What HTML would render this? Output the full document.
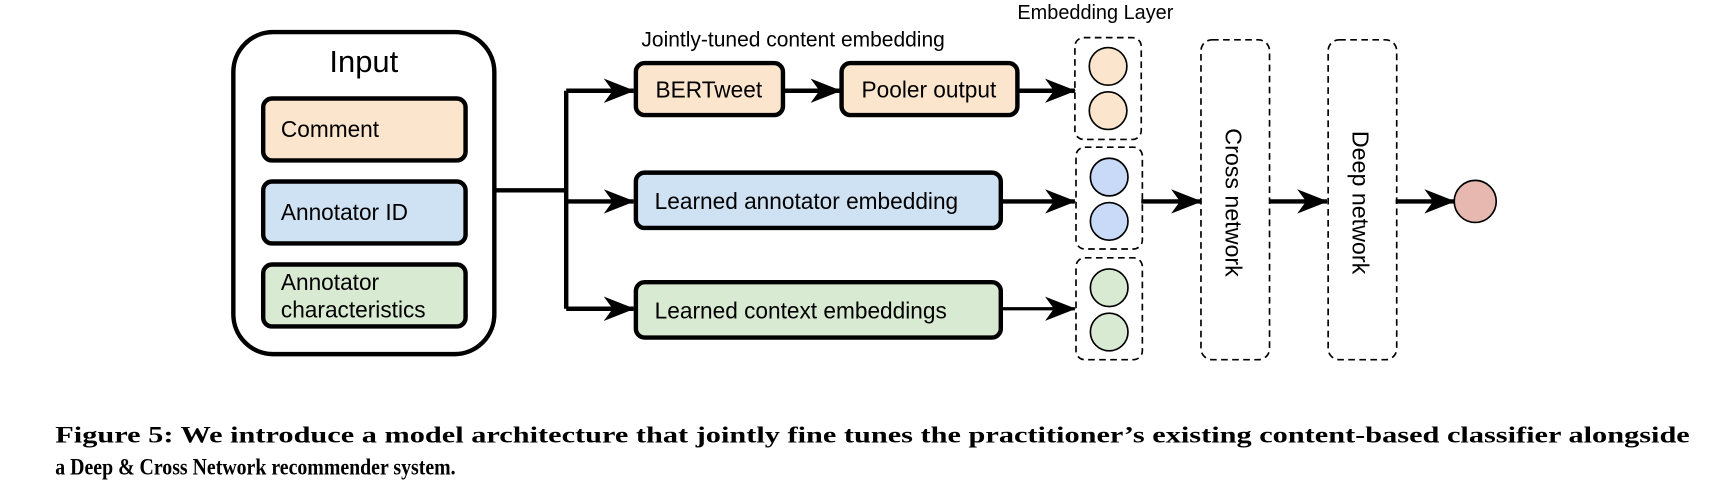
<!DOCTYPE html>
<html><head><meta charset="utf-8"><style>
html,body{margin:0;padding:0;background:#fff;}
svg{display:block;}
</style></head><body>
<svg width="1734" height="498" viewBox="0 0 1568 450" preserveAspectRatio="none" xmlns="http://www.w3.org/2000/svg">
<defs>
<marker id="ah" viewBox="0 0 28 22" refX="27" refY="11" markerWidth="28" markerHeight="22" markerUnits="userSpaceOnUse" orient="auto">
<path d="M0,0 L28,11 L0,22 L8,11 Z" fill="#000"/>
</marker>
</defs>
<g font-family="Liberation Sans, Arial, sans-serif" fill="#000">
<rect x="211" y="29" width="236" height="291" rx="36" fill="#fff" stroke="#000" stroke-width="4"/>
<text x="329" y="65" font-size="28" text-anchor="middle">Input</text>
<rect x="238" y="89" width="183" height="56" rx="8" fill="#fce5cd" stroke="#000" stroke-width="4"/>
<text x="254" y="124" font-size="20.5">Comment</text>
<rect x="238" y="164" width="183" height="56" rx="8" fill="#cfe2f3" stroke="#000" stroke-width="4"/>
<text x="254" y="199" font-size="20.5">Annotator ID</text>
<rect x="238" y="239" width="183" height="56" rx="8" fill="#d9ead3" stroke="#000" stroke-width="4"/>
<text x="254" y="262" font-size="20.5">Annotator</text>
<text x="254" y="287" font-size="20.5">characteristics</text>

<g stroke="#000" stroke-width="4" fill="none">
<path d="M447,172 H512"/>
<path d="M512,82 V279"/>
<path d="M512,82 H573" marker-end="url(#ah)"/>
<path d="M512,182 H573" marker-end="url(#ah)"/>
<path d="M512,279 H573" marker-end="url(#ah)"/>
<path d="M708,82 H760" marker-end="url(#ah)"/>
<path d="M920,82 H972" marker-end="url(#ah)"/>
<path d="M905,182 H972" marker-end="url(#ah)"/>
<path d="M905,279 H972" stroke-width="3" marker-end="url(#ah)"/>
<path d="M1032,182 H1086" marker-end="url(#ah)"/>
<path d="M1148,182 H1200" marker-end="url(#ah)"/>
<path d="M1262,182 H1315" marker-end="url(#ah)"/>
</g>

<text x="580" y="42" font-size="19">Jointly-tuned content embedding</text>
<rect x="575" y="57" width="133" height="47" rx="8" fill="#fce5cd" stroke="#000" stroke-width="4"/>
<text x="641" y="88" font-size="20.5" text-anchor="middle">BERTweet</text>
<rect x="761" y="57" width="159" height="47" rx="8" fill="#fce5cd" stroke="#000" stroke-width="4"/>
<text x="840" y="88" font-size="20.5" text-anchor="middle">Pooler output</text>
<rect x="575" y="156" width="330" height="50" rx="8" fill="#cfe2f3" stroke="#000" stroke-width="4"/>
<text x="592" y="189" font-size="20.5">Learned annotator embedding</text>
<rect x="575" y="255" width="330" height="50" rx="8" fill="#d9ead3" stroke="#000" stroke-width="4"/>
<text x="592" y="288" font-size="20.5">Learned context embeddings</text>

<text x="920" y="17" font-size="18">Embedding Layer</text>
<g stroke="#000" stroke-width="1.5" stroke-dasharray="6,4" fill="none">
<rect x="972" y="34" width="60" height="92" rx="8"/>
<rect x="973" y="133" width="60" height="92" rx="8"/>
<rect x="973" y="233" width="60" height="92" rx="8"/>
<rect x="1086" y="36" width="62" height="289" rx="10"/>
<rect x="1201" y="36" width="62" height="289" rx="10"/>
</g>
<g stroke="#000" stroke-width="1.5">
<circle cx="1002" cy="60" r="17" fill="#fce5cd"/>
<circle cx="1002" cy="100" r="17" fill="#fce5cd"/>
<circle cx="1003" cy="160" r="17" fill="#c9daf8"/>
<circle cx="1003" cy="200" r="17" fill="#c9daf8"/>
<circle cx="1003" cy="260" r="17" fill="#d9ead3"/>
<circle cx="1003" cy="300" r="17" fill="#d9ead3"/>
<circle cx="1334" cy="182" r="19" fill="#e6b8af"/>
</g>
<text transform="translate(1108,183) rotate(90)" font-size="21" text-anchor="middle">Cross network</text>
<text transform="translate(1223,183) rotate(90)" font-size="21" text-anchor="middle">Deep network</text>
</g>
<g font-family="Liberation Serif, serif" font-weight="bold" fill="#000">
<text x="50" y="400" font-size="21" textLength="1478" lengthAdjust="spacingAndGlyphs">Figure 5: We introduce a model architecture that jointly fine tunes the practitioner’s existing content-based classifier alongside</text>
<text x="50" y="429" font-size="21" textLength="362" lengthAdjust="spacingAndGlyphs">a Deep &amp; Cross Network recommender system.</text>
</g>
</svg>
</body></html>
